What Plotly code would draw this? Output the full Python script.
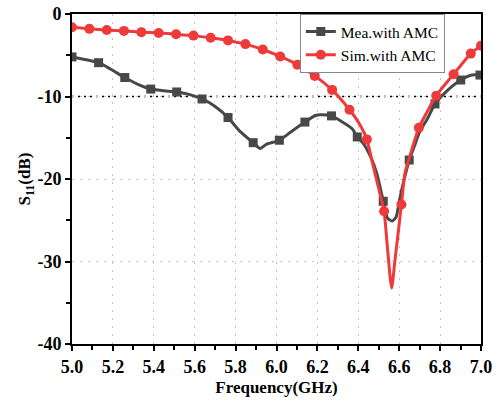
import plotly.graph_objects as go

# ---- data ----
mea_freq = [5.000, 5.130, 5.190, 5.258, 5.320, 5.385, 5.450, 5.512, 5.580, 5.636,
            5.700, 5.763, 5.820, 5.886, 5.920, 5.950, 6.014, 6.070, 6.139, 6.190,
            6.215, 6.269, 6.310, 6.370, 6.395, 6.425, 6.460, 6.490, 6.522, 6.542,
            6.565, 6.585, 6.601, 6.617, 6.649, 6.676, 6.700, 6.740, 6.775, 6.830,
            6.901, 6.955, 6.995]
mea_s11 = [-5.2, -5.9, -6.7, -7.7, -8.5, -9.1, -9.3, -9.45, -9.8, -10.3,
           -11.2, -12.55, -14.2, -15.6, -16.3, -15.8, -15.3, -14.3, -13.1, -12.3,
           -12.2, -12.35, -12.9, -13.9, -14.9, -15.7, -17.3, -19.3, -22.7, -24.7,
           -25.1, -24.6, -22.6, -20.8, -17.7, -15.9, -14.3, -12.6, -10.9, -9.4,
           -8.0, -7.4, -7.4]
mea_marked = [1, 1, 0, 1, 0, 1, 0, 1, 0, 1,
              0, 1, 0, 1, 0, 0, 1, 0, 1, 0,
              0, 1, 0, 0, 1, 0, 0, 0, 1, 0,
              0, 0, 0, 0, 1, 0, 0, 0, 1, 0,
              1, 0, 1]

sim_freq = [5.000, 5.085, 5.170, 5.254, 5.339, 5.424, 5.509, 5.594, 5.678, 5.763,
            5.848, 5.933, 6.018, 6.102, 6.187, 6.272, 6.357, 6.400, 6.442, 6.466,
            6.498, 6.526, 6.542, 6.563, 6.579, 6.611, 6.628, 6.661, 6.696, 6.740,
            6.781, 6.866, 6.950, 7.000]
sim_s11 = [-1.6, -1.8, -1.94, -2.05, -2.2, -2.3, -2.45, -2.62, -2.88, -3.2,
           -3.65, -4.3, -5.15, -6.15, -7.5, -9.2, -11.6, -13.1, -15.2, -17.7,
           -21.0, -23.9, -28.2, -33.2, -29.9, -23.1, -19.3, -16.5, -13.8, -11.7,
           -9.9, -7.3, -4.8, -3.85]
sim_marked = [1, 1, 1, 1, 1, 1, 1, 1, 1, 1,
              1, 1, 1, 1, 1, 1, 1, 0, 1, 0,
              0, 1, 0, 0, 0, 1, 0, 0, 1, 0,
              1, 1, 1, 1]

threshold = -10
x_ticks = [5.0, 5.2, 5.4, 5.6, 5.8, 6.0, 6.2, 6.4, 6.6, 6.8, 7.0]
x_ticktext = ["5.0", "5.2", "5.4", "5.6", "5.8", "6.0", "6.2", "6.4", "6.6", "6.8", "7.0"]
y_ticks = [0, -10, -20, -30, -40]
y_ticktext = ["0", "-10", "-20", "-30", "-40"]

MEA_COLOR = "#484848"
SIM_COLOR = "#EE3A3A"
FONT = "Liberation Serif"

fig = go.Figure()

def add_series(freq, s11, marked, name, color, symbol, msize):
    fig.add_trace(go.Scatter(x=freq, y=s11, mode="lines",
                             line=dict(color=color, width=3, shape="spline", smoothing=0.6),
                             showlegend=False, hoverinfo="skip"))
    mx = [f for f, m in zip(freq, marked) if m]
    my = [v for v, m in zip(s11, marked) if m]
    fig.add_trace(go.Scatter(x=mx, y=my, mode="markers",
                             marker=dict(color=color, symbol=symbol, size=msize),
                             showlegend=False))
    fig.add_trace(go.Scatter(x=[None], y=[None], mode="lines+markers", name=name,
                             line=dict(color=color, width=3),
                             marker=dict(color=color, symbol=symbol, size=msize)))

add_series(mea_freq, mea_s11, mea_marked, "Mea.with AMC", MEA_COLOR, "square", 9)
add_series(sim_freq, sim_s11, sim_marked, "Sim.with AMC", SIM_COLOR, "circle", 10)

fig.add_hline(y=threshold, line=dict(color="black", width=1.5, dash="2px,4px"), layer="below")

axis_common = dict(
    showline=True, linecolor="black", linewidth=2, mirror=True,
    ticks="outside", ticklen=5, tickwidth=2, tickcolor="black",
    showgrid=True, gridcolor="#C4C4C4", gridwidth=1.2, griddash="2px,6px",
    zeroline=False, automargin=False,
    tickfont=dict(family=FONT, size=18, color="black", weight="bold"),
)

fig.update_xaxes(range=[5, 7], tickvals=x_ticks, ticktext=x_ticktext,
                 ticklabelstandoff=0,
                 minor=dict(ticks="outside", ticklen=4, tickwidth=2, tickcolor="black",
                            dtick=0.1, tick0=5.0, showgrid=False),
                 title=dict(text="<b>Frequency(GHz)</b>", font=dict(family=FONT, size=17, color="black"), standoff=6),
                 **axis_common)
fig.update_yaxes(range=[-40, 0], tickvals=y_ticks, ticktext=y_ticktext,
                 minor=dict(ticks="outside", ticklen=4, tickwidth=2, tickcolor="black",
                            dtick=5, tick0=0, showgrid=False),
                 title=dict(text="<b>S<sub>11</sub>(dB)</b>", font=dict(family=FONT, size=17, color="black"), standoff=2),
                 **axis_common)

fig.update_layout(
    width=498, height=402,
    margin=dict(l=72, r=17, t=14, b=58, autoexpand=False),
    paper_bgcolor="white", plot_bgcolor="white",
    showlegend=True,
    legend=dict(x=0.557, y=1.0, xanchor="left", yanchor="top",
                bgcolor="white", bordercolor="#888888", borderwidth=1,
                font=dict(family=FONT, size=15.5, color="black"),
                tracegroupgap=0, itemwidth=30),
)

fig.write_html("out.html")
